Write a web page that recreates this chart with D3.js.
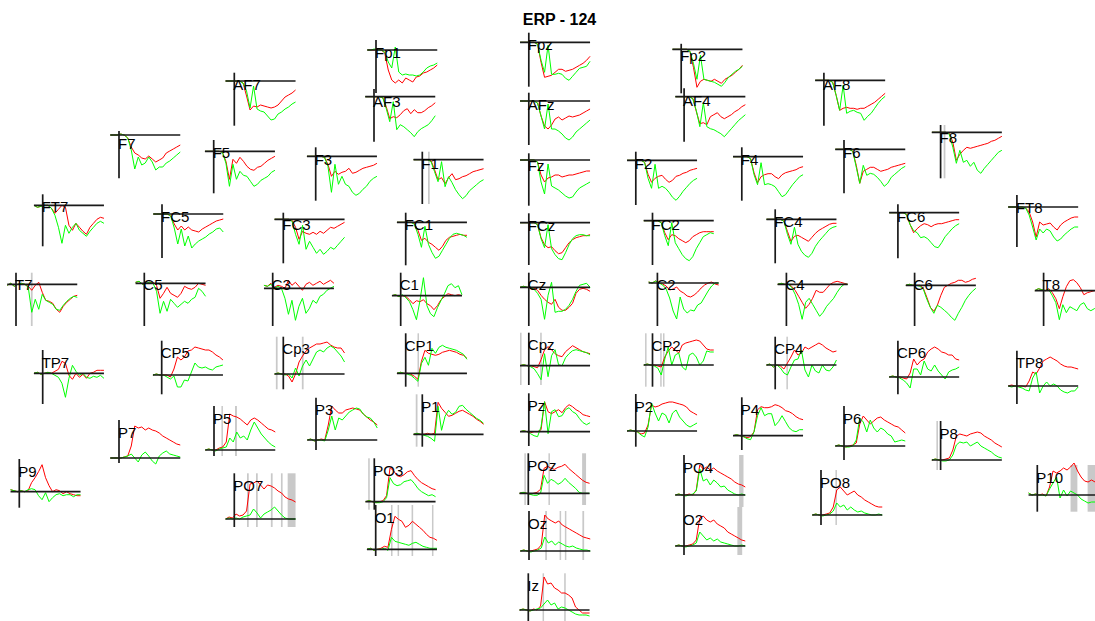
<!DOCTYPE html>
<html><head><meta charset="utf-8">
<script src="https://cdn.jsdelivr.net/npm/d3@7"></script>
<style>body{margin:0;background:#fff}svg{display:block}</style>
</head><body>
<svg id="c" width="1095" height="621"></svg>
<script>
// ---- data ----
const title = "ERP - 124";
const times = [-100,-60,-20,20,60,100,140,180,220,260,300,340,380,420,460,500,540,580,620,660,700];
const channels = ["Fp1","Fpz","Fp2","AF7","AF3","AFz","AF4","AF8","F7","F5","F3","F1","Fz","F2","F4","F6","F8",
  "FT7","FC5","FC3","FC1","FCz","FC2","FC4","FC6","FT8","T7","C5","C3","C1","Cz","C2","C4","C6","T8",
  "TP7","CP5","Cp3","CP1","Cpz","CP2","CP4","CP6","TP8","P9","P7","P5","P3","P1","Pz","P2","P4","P6","P8","P10",
  "PO7","PO3","POz","PO4","PO8","O1","Oz","O2","Iz"];
// layout position of each channel (time-zero / zero-amplitude crossing), layout units
const chanX = [376,528.8,681.2,234.3,374,528.8,684.1,823.9,119,213.7,315.7,422.3,528.8,635.8,741.8,844,940.6,
  42.7,162,283.3,405.7,528.8,652.5,775.2,897.9,1016.9,16,144.3,272.7,400.7,528.8,657.4,786.4,914.6,1043.6,
  42.7,161.7,283.3,405.7,528.8,652.5,775.2,897.9,1016.9,19.3,119,214,316,422.3,528.8,635.8,741.8,844,940.6,1037.3,
  234.3,374.3,528.3,684,821,375.7,529,684,528.3];
const chanY = [50,42.3,49.3,81,96.7,101,96.7,80.3,135,151.3,156.3,159.7,160,160.3,156.7,149.3,132.3,
  205.3,214,219.3,222.3,222.7,220.7,219.3,212.7,207,284.3,283.3,288.3,295.7,287.3,283,284.3,285.3,290.7,
  373.3,375,374,373.3,365.7,365,365,377,386,491.7,458,450,440,434.3,431.7,431,435.7,446,460,495,
  519,501.7,493.3,495,515,549.3,551,546,610];
// per-channel amplitude limits
const yMax = [10,9.6,5.5,8.3,7.7,8.3,8.4,7.6,4,11.3,9,8,6.7,8.6,9.4,9.3,7.3,
  11,9.7,6.6,9.6,9.4,8,10,8.4,12,11.6,10.6,15.6,23,14.6,10.3,11.6,12.6,18,
  23.3,34.3,37.3,40,33,31.7,28.3,36.3,35.3,32.7,38,44,42.3,40,38.4,37,38.4,40,39,30,
  45.7,43.4,40,40,45,44.3,40,39,36.7];
const yMin = [-43,-44.4,-44,-44.7,-45,-44,-45,-45.4,-43.3,-42,-44.4,-44.3,-45.7,-44.7,-44,-44,-46,
  -41,-44,-44,-43,-42.3,-44.3,-44,-45.6,-40,-41.7,-42.7,-37.7,-30.3,-38.7,-43,-41.7,-40.7,-35.3,
  -30.7,-19.3,-15.3,-13.4,-19.3,-21.7,-24.3,-17.3,-18,-16,-5,-6,-10,-12.4,-14.3,-15.7,-14.3,-14,-10,-16.7,
  -8,-8,-11.7,-12,-10,-6.7,-9,-9,-11.7];
// condition 1 (red) per channel
const condRed = [
[0,0,0,1,0,-3,-20,-30,-33,-30,-33,-28,-30,-32,-27,-26,-23,-22,-20,-18,-15],
[0,0,0,0,0,-2,-20,-35,-34,-33,-30,-27,-27,-29,-28,-27,-25,-23,-21,-18,-14],
[0,0,0,0,0,-2,-18,-38,-32,-30,-31,-32,-30,-32,-34,-30,-28,-26,-23,-20,-16],
[0,0,0,0,0,-2,-15,-29,-25,-26,-24,-25,-26,-27,-26,-24,-20,-16,-14,-12,-9],
[0,0,0,0,0,-1,-10,-22,-20,-21,-18,-14,-12,-17,-13,-16,-16,-14,-11,-9,-6],
[0,0,0,0,0,-2,-15,-25,-28,-24,-18,-16,-19,-17,-15,-16,-15,-14,-12,-10,-8],
[0,0,0,0,0,-2,-15,-27,-26,-28,-20,-18,-16,-20,-22,-20,-18,-15,-13,-10,-8],
[0,0,0,0,0,-2,-15,-30,-28,-27,-28,-28,-29,-28,-28,-26,-24,-22,-19,-16,-13],
[0,0,0,1,0,-3,-12,-18,-20,-23,-24,-21,-24,-27,-25,-23,-18,-16,-14,-12,-10],
[0,0,0,0,0,-1,-10,-28,-8,-12,-6,-10,-15,-18,-19,-16,-15,-12,-9,-7,-5],
[0,0,0,0,0,-1,-8,-20,-15,-18,-16,-15,-12,-17,-16,-14,-12,-11,-10,-9,-7],
[0,0,0,0,0,-1,-10,-20,-18,-24,-18,-14,-20,-19,-17,-16,-14,-12,-11,-10,-9],
[0,0,0,0,0,-2,-15,-22,-18,-17,-15,-15,-17,-16,-15,-15,-14,-13,-12,-11,-11],
[0,0,0,0,0,-2,-14,-22,-18,-16,-15,-19,-22,-20,-16,-15,-13,-12,-10,-9,-8],
[0,0,0,0,0,-2,-16,-26,-20,-18,-17,-17,-20,-22,-18,-16,-15,-14,-13,-11,-10],
[0,0,0,0,0,-2,-16,-34,-22,-20,-18,-18,-20,-22,-21,-20,-18,-17,-16,-15,-14],
[0,0,0,0,0,-1,-10,-28,-22,-18,-15,-16,-15,-14,-13,-12,-11,-9,-8,-6,-4],
[0,-2,-1,0,0,-3,-8,-4,0,-2,-20,-25,-18,-22,-26,-29,-22,-18,-14,-12,-13],
[0,0,0,0,0,-2,-10,-16,-12,-16,-13,-16,-17,-18,-15,-13,-11,-9,-7,-6,-5],
[0,0,0,0,0,-1,-8,-20,-12,-14,-15,-13,-15,-12,-14,-11,-8,-9,-7,-5,-3],
[0,0,0,0,0,-1,-8,-18,-16,-20,-22,-25,-28,-24,-18,-15,-14,-13,-12,-13,-13],
[0,0,0,0,0,-2,-15,-22,-25,-24,-28,-31,-30,-25,-20,-17,-15,-14,-13,-13,-12],
[0,0,0,0,0,-2,-12,-19,-14,-15,-18,-20,-22,-20,-16,-14,-12,-11,-11,-11,-11],
[0,0,0,0,0,-2,-12,-22,-17,-16,-18,-20,-22,-18,-14,-11,-9,-7,-5,-4,-4],
[0,0,0,0,0,-2,-12,-20,-16,-13,-11,-12,-14,-12,-11,-11,-10,-9,-8,-7,-7],
[0,0,0,0,0,-1,-5,-15,-30,-15,-18,-17,-16,-20,-23,-18,-15,-13,-11,-10,-10],
[-1,1,-2,0,1,0,-2,-6,-1,2,-8,-16,-17,-19,-25,-28,-22,-18,-15,-12,-11],
[1,2,-1,0,1,1,-2,-15,-10,-4,-10,-12,-14,-10,-3,-5,-6,-4,0,-1,-2],
[3,2,5,1,3,2,0,8,3,6,2,-2,4,6,3,5,7,4,6,8,5],
[0,1,-1,0,-1,-4,-8,-5,-6,-4,-8,-10,-14,-10,-4,-1,2,1,0,1,0],
[0,1,0,0,-1,-3,-8,-12,-15,-17,-12,-20,-23,-23,-20,-16,-6,-2,-1,-2,-4],
[1,0,2,0,-1,-3,-7,-6,-4,-8,-10,-13,-14,-12,-9,-5,-2,0,1,-1,-2],
[0,1,0,0,-2,-6,-12,-18,-24,-20,-14,-6,-8,-8,-4,0,2,3,2,1,0],
[0,1,0,0,0,-3,-12,-22,-26,-20,-10,-2,0,2,3,5,5,3,4,6,7],
[0,2,1,0,2,-2,-8,-18,-6,4,10,11,8,3,-4,-2,-1,0,2,3,4],
[0,1,-1,0,1,0,2,4,12,10,-2,-6,0,-4,-1,-5,0,1,3,3,3],
[0,1,0,0,0,-2,6,18,15,18,24,25,28,27,26,25,25,23,20,18,15],
[0,1,0,0,-2,-8,0,12,18,23,26,28,30,30,31,32,29,27,26,26,21],
[0,1,0,0,-1,-3,-6,12,23,20,19,18,19,21,22,23,22,21,19,18,15],
[0,1,0,0,-1,-2,6,16,19,16,12,10,9,14,17,20,18,16,14,13,12],
[0,1,0,0,-1,-2,8,14,18,15,12,20,22,23,24,25,24,20,16,15,15],
[0,1,-2,0,-1,-4,2,8,15,10,12,18,16,18,20,22,20,17,15,13,14],
[0,1,0,0,-1,-2,4,18,12,16,18,25,28,30,28,25,24,22,22,18,17],
[0,1,0,0,0,-1,5,14,12,18,25,27,29,27,25,22,20,19,19,18,17],
[2,1,0,1,0,1,9,14,20,27,14,6,0,2,1,-2,0,-2,-3,-4,-4],
[0,0,0,0,1,2,12,32,30,31,28,30,28,27,25,22,20,18,16,14,13],
[0,1,0,0,2,3,8,36,34,33,31,28,25,30,32,30,27,24,21,20,18],
[0,1,-1,0,1,0,15,34,30,27,27,30,31,32,31,30,26,23,20,18,15],
[0,1,0,0,1,0,1,32,26,22,18,19,21,23,24,22,20,18,15,13,10],
[0,1,0,-1,0,0,2,30,20,18,20,22,19,24,27,25,22,20,17,16,15],
[0,1,0,-1,-3,-2,6,26,24,25,27,28,29,29,28,27,26,24,20,18,16],
[0,1,0,-1,-2,-1,4,26,29,28,28,29,31,30,28,25,24,22,19,17,16],
[0,1,0,-1,0,1,3,22,30,26,22,25,28,29,26,24,22,20,19,16,13],
[0,1,0,0,1,2,10,24,26,25,24,26,27,28,27,24,22,20,17,15,13],
[2,0,1,0,1,-1,8,24,22,24,27,25,28,32,24,18,14,13,15,13,12],
[0,2,1,5,3,4,8,35,36,38,34,30,34,33,31,28,26,22,20,19,17],
[0,1,0,-1,0,1,6,34,31,26,25,27,30,31,26,22,19,17,15,13,12],
[0,1,0,-1,0,1,4,25,27,25,24,26,27,29,25,22,19,16,13,11,10],
[0,1,0,0,1,0,5,30,26,28,25,27,24,22,20,18,16,13,11,10,8],
[0,1,0,0,1,2,8,25,28,24,20,22,24,20,18,15,13,11,9,8,8],
[0,1,-1,0,1,3,2,20,33,30,28,22,24,28,25,22,19,15,12,11,9],
[0,1,0,0,1,2,6,36,32,30,28,30,26,24,22,20,18,16,14,13,12],
[0,1,0,0,1,2,6,28,30,26,24,26,22,20,18,14,12,10,8,6,5],
[0,1,0,-1,1,0,4,33,26,27,22,20,17,17,15,12,3,0,-3,-3,-3]];
// condition 2 (green) per channel
const condGreen = [
[0,0,1,0,0,-2,-12,-18,3,-22,-25,-24,-25,-25,-26,-25,-22,-18,-16,-15,-13],
[0,0,0,0,0,-2,-18,-30,-3,-32,-32,-31,-32,-36,-38,-34,-30,-26,-25,-24,-19],
[0,0,0,0,0,-2,-14,-30,-6,-30,-31,-32,-33,-35,-37,-33,-28,-25,-22,-20,-17],
[0,0,0,0,0,-2,-10,-27,-5,-28,-30,-31,-35,-39,-38,-33,-31,-28,-26,-23,-21],
[0,0,0,0,0,-1,-12,-25,-5,-33,-28,-30,-33,-36,-40,-35,-32,-30,-28,-24,-19],
[0,0,0,0,0,-2,-15,-28,-3,-28,-28,-30,-33,-37,-39,-36,-31,-28,-25,-22,-19],
[0,0,0,0,0,-2,-14,-30,-6,-30,-32,-33,-35,-37,-40,-36,-32,-28,-24,-21,-18],
[0,0,0,0,0,-2,-15,-30,-5,-33,-31,-30,-32,-33,-40,-36,-33,-28,-23,-19,-16],
[0,0,0,1,0,-3,-15,-34,-22,-30,-28,-22,-27,-35,-32,-32,-28,-26,-23,-20,-17],
[0,0,0,0,0,-1,-12,-35,-13,-28,-20,-24,-25,-30,-35,-33,-29,-27,-25,-21,-19],
[0,0,0,0,0,-1,-10,-36,-8,-28,-20,-28,-30,-36,-39,-37,-33,-30,-25,-22,-20],
[0,0,0,0,0,-2,-12,-22,-2,-27,-17,-23,-30,-35,-39,-36,-31,-28,-25,-22,-20],
[0,0,0,0,0,-2,-22,-34,-4,-26,-28,-30,-33,-36,-38,-37,-32,-28,-26,-24,-22],
[0,0,0,0,0,-2,-18,-28,-4,-28,-26,-28,-32,-37,-40,-36,-31,-27,-23,-20,-18],
[0,0,0,0,0,-2,-18,-28,-6,-28,-27,-28,-30,-35,-40,-38,-33,-28,-24,-20,-18],
[0,0,0,0,0,-2,-18,-34,-16,-26,-24,-25,-28,-32,-37,-34,-28,-25,-22,-19,-17],
[0,0,0,0,0,-2,-15,-31,-18,-30,-28,-34,-30,-38,-41,-36,-32,-28,-24,-20,-18],
[0,-2,-1,0,0,-3,-10,-22,-38,-20,-28,-22,-18,-25,-28,-31,-26,-22,-18,-16,-18],
[0,0,0,0,0,-2,-14,-30,-15,-32,-22,-34,-30,-27,-25,-23,-20,-18,-15,-14,-18],
[0,0,0,0,0,-2,-15,-25,-6,-30,-22,-28,-34,-30,-35,-32,-28,-30,-26,-22,-18],
[0,0,0,0,0,-2,-12,-25,-4,-22,-30,-36,-34,-28,-22,-16,-12,-11,-12,-13,-15],
[0,0,0,0,0,-2,-16,-25,-2,-26,-32,-36,-37,-30,-22,-16,-13,-12,-12,-13,-13],
[0,0,0,0,0,-2,-15,-25,-2,-22,-28,-34,-38,-40,-36,-28,-22,-16,-14,-12,-13],
[0,0,0,0,0,-2,-15,-25,-8,-25,-32,-36,-38,-34,-27,-22,-18,-14,-10,-8,-7],
[0,0,0,0,0,-2,-12,-18,-20,-25,-24,-26,-30,-34,-35,-30,-24,-20,-16,-13,-11],
[0,0,0,0,0,-1,-8,-20,-33,-22,-26,-22,-24,-30,-34,-32,-28,-25,-22,-20,-20],
[-1,1,-2,0,1,0,-3,-28,-15,-25,-10,-16,-18,-20,-25,-26,-21,-17,-14,-12,-13],
[1,2,-1,0,1,0,-8,-30,-18,-28,-16,-20,-24,-21,-18,-20,-16,-14,-5,-8,-13],
[3,2,4,0,2,0,-10,-26,-12,-32,-18,-10,-25,-20,-12,-15,-8,-6,-2,0,2],
[0,1,-1,1,-2,-6,-14,-24,-5,18,-10,-18,-21,-12,-5,2,10,12,8,10,1],
[0,1,0,0,-2,-6,-12,-32,-8,5,-25,-24,-24,-22,-18,-12,-4,2,3,4,0],
[1,0,2,0,-2,-6,-15,-28,-36,-14,-26,-30,-27,-28,-22,-20,-14,-8,-3,0,0],
[0,1,0,0,-3,-10,-20,-35,-18,-14,-20,-26,-32,-28,-22,-18,-14,-8,-3,0,0],
[0,1,0,0,-1,-4,-14,-22,-28,-20,-22,-25,-28,-32,-35,-28,-22,-15,-10,-6,-3],
[0,2,1,0,1,-5,-12,-29,-14,-22,-16,-18,-20,-14,-12,-18,-20,-18,-15,-18,-20],
[0,1,-1,0,1,0,-2,-4,-10,-24,-5,8,2,-2,0,-4,-5,-3,-4,-2,-5],
[0,1,0,0,-2,-4,-1,-12,-12,-5,-6,3,12,8,7,8,6,5,8,9,10],
[0,1,0,-1,0,-4,6,-2,8,14,8,15,22,24,22,26,28,26,22,18,12],
[0,1,0,-1,-2,-5,-8,10,16,8,25,20,26,28,26,25,24,23,21,19,14],
[0,1,0,-1,-3,-8,-14,12,-11,10,16,1,0,8,12,15,16,15,14,13,11],
[0,1,0,-1,-3,-10,6,18,0,10,12,-2,-5,10,12,8,0,4,14,13,13],
[0,1,-2,0,-3,-8,-10,-2,5,6,15,-5,-12,0,-6,-8,0,-5,-6,-2,5],
[0,1,0,-1,-3,-6,-11,8,8,2,16,8,6,12,6,2,-2,5,7,8,10],
[0,-1,0,-1,-2,-4,-5,8,14,-7,0,4,0,2,0,-4,-6,-7,-5,-5,-1],
[2,1,0,1,0,2,3,2,-4,-8,-1,-10,-6,-3,-2,-4,-3,-3,-5,-3,-3],
[0,0,0,0,1,2,4,0,-4,3,6,2,-3,-6,2,5,7,4,3,2,1],
[0,1,0,-1,1,2,3,12,8,18,12,14,10,20,28,22,16,12,8,5,3],
[0,1,-1,0,0,-1,10,24,10,22,20,24,28,30,32,31,26,23,22,18,12],
[0,1,0,-1,-2,-4,-7,28,4,18,24,20,22,28,29,25,22,19,16,14,11],
[0,1,0,-2,-4,-5,5,30,-2,20,22,15,16,22,24,20,18,13,9,7,9],
[0,1,0,-1,-4,-6,4,28,18,10,18,16,8,18,21,14,10,6,4,6,8],
[0,1,0,-1,-3,-4,4,20,28,20,22,22,10,14,20,14,8,5,4,6,6],
[0,1,0,-1,-1,0,6,28,24,14,26,18,14,18,16,12,10,4,5,6,5],
[0,1,0,-1,-1,0,5,15,18,17,18,14,16,18,14,12,10,8,5,3,2],
[2,0,1,0,0,-1,6,12,18,-3,5,-1,4,2,0,-4,-6,-8,-7,-7,-6],
[0,1,0,1,0,2,3,4,10,6,1,5,7,9,12,8,4,1,0,0,0],
[0,1,0,-1,-1,0,4,24,18,16,17,20,21,22,18,13,10,8,6,7,5],
[0,1,0,-1,-2,-2,0,18,10,14,12,9,11,15,11,8,5,1,0,0,0],
[0,1,0,-1,0,1,4,26,14,16,10,15,12,8,9,5,3,1,0,1,0],
[0,1,0,-1,0,1,4,12,8,10,5,8,5,3,4,2,1,0,0,1,0],
[0,1,-1,0,0,1,-1,12,8,7,6,5,4,6,7,5,3,2,1,1,1],
[0,1,0,-1,0,1,3,14,8,10,6,9,7,5,4,5,3,2,1,1,0],
[0,1,0,-1,0,1,3,14,10,6,8,5,7,4,3,2,1,0,0,1,0],
[0,1,0,-1,0,1,2,6,10,5,7,1,3,2,0,-2,-4,-5,-5,-5,-6]];
// significant time windows [channel, start ms, end ms]
const sigWindows = [
["F1",65,85],["F8",35,55],["T7",170,190],["Cp3",-85,-65],["Cp3",212,232],["CP1",135,152],
["Cpz",-100,-88],["Cpz",130,148],["CP2",-85,-68],["CP2",88,104],["CP2",120,136],["CP4",128,145],
["P5",85,100],["P5",240,262],["P1",-75,-55],["P8",-48,-30],["P10",380,458],["P10",575,700],
["PO7",145,165],["PO7",248,268],["PO7",418,438],["PO7",533,552],["PO7",610,700],["PO3",-70,-52],
["POz",-45,-30],["POz",230,245],["POz",615,660],["PO4",630,680],["PO8",165,182],
["O1",175,192],["O1",250,266],["O1",410,428],["O1",643,660],
["Oz",185,205],["Oz",350,365],["Oz",410,425],["Oz",610,630],["O2",610,665],["Iz",163,180],["Iz",410,428]];

// ---- drawing ----
const W = 1095, H = 621;
const svg = d3.select("#c");
const layoutX = d3.scaleLinear().domain([0, 1095]).range([0, W]);
const layoutY = d3.scaleLinear().domain([0, 621]).range([0, H]);
const PANEL_W = 70;
const tSpan = times[times.length - 1] - times[0];
const preW = PANEL_W * (0 - times[0]) / tSpan;

svg.append("text").attr("x", 559.5).attr("y", 24.5).attr("text-anchor", "middle")
  .attr("font-family", "Liberation Sans, Arial, sans-serif").attr("font-weight", "bold")
  .attr("font-size", 16).attr("fill", "#000").text(title);

const sigLayer = svg.append("g");
const traceLayer = svg.append("g");
const axisLayer = svg.append("g");
const labelLayer = svg.append("g");

channels.forEach((name, i) => {
  const cx = layoutX(chanX[i]), cy = layoutY(chanY[i]);
  const x = d3.scaleLinear().domain([times[0], times[times.length - 1]])
    .range([cx - preW, cx - preW + PANEL_W]);
  const y = d3.scaleLinear().domain([yMin[i], yMax[i]]).range([cy - yMin[i], cy - yMax[i]]);

  sigWindows.filter(s => s[0] === name).forEach(s => {
    sigLayer.append("rect")
      .attr("x", x(s[1])).attr("width", Math.max(1.5, x(s[2]) - x(s[1])))
      .attr("y", y(yMax[i])).attr("height", y(yMin[i]) - y(yMax[i]))
      .attr("fill", "#c9c9c9");
  });

  const line = d3.line().x((d, k) => x(times[k])).y(d => y(d));
  traceLayer.append("path").attr("d", line(condRed[i]))
    .attr("fill", "none").attr("stroke", "#ff0000").attr("stroke-width", 1);
  traceLayer.append("path").attr("d", line(condGreen[i]))
    .attr("fill", "none").attr("stroke", "#00ff00").attr("stroke-width", 1);

  axisLayer.append("line")
    .attr("x1", x(times[0])).attr("x2", x(times[times.length - 1]))
    .attr("y1", y(0)).attr("y2", y(0))
    .attr("stroke", "#1a1a1a").attr("stroke-width", 1.7);
  axisLayer.append("line")
    .attr("x1", x(0)).attr("x2", x(0))
    .attr("y1", y(yMax[i])).attr("y2", y(yMin[i]))
    .attr("stroke", "#1a1a1a").attr("stroke-width", 1.7);

  labelLayer.append("text")
    .attr("x", x(0) - 1).attr("y", y(yMax[i]) + 17.5)
    .attr("font-family", "Liberation Sans, Arial, sans-serif").attr("font-size", 15)
    .attr("fill", "#000").text(name);
});
</script>
</body></html>
